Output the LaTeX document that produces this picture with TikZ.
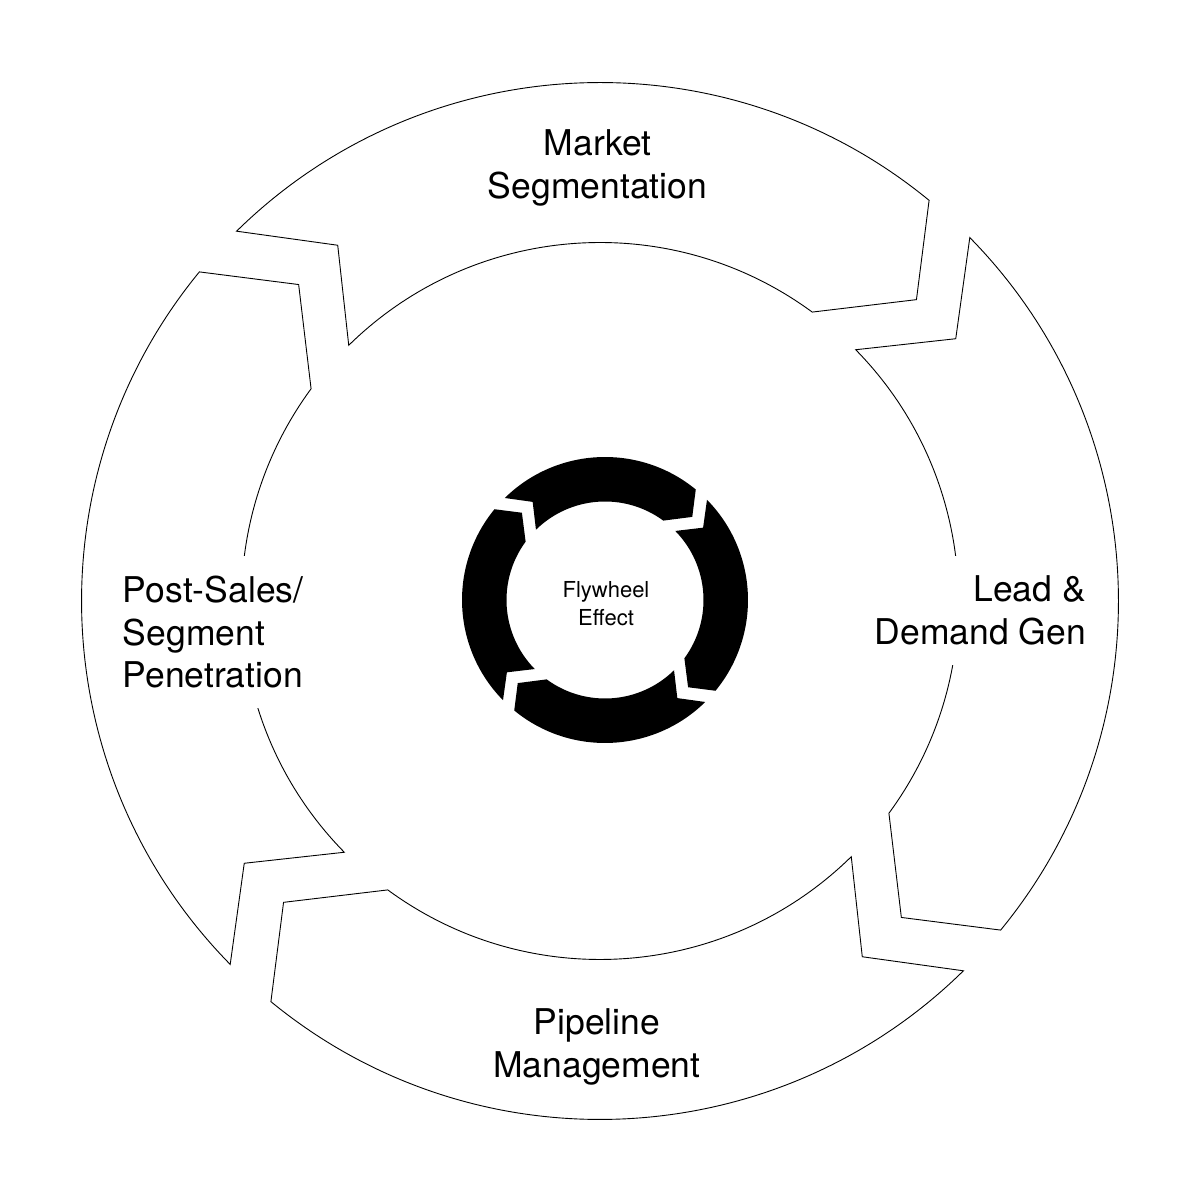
\documentclass[tikz,border=0pt]{standalone}
\usepackage{fontspec}
\setmainfont{TeX Gyre Heros}
\tikzset{
  ringseg/.style={draw=black, line width=0.9pt, fill=white, line join=miter},
  hubseg/.style={fill=black, draw=none},
  biglabel/.style={font=\fontsize{35.5}{42.6}\selectfont, inner sep=0pt},
  sidelabel/.style={biglabel, fill=white, inner xsep=5pt, inner ysep=20pt},
  hublabel/.style={font=\fontsize{22}{28.3}\selectfont, align=center, inner sep=0pt}
}
\begin{document}
\begin{tikzpicture}[x=1pt,y=1pt]
\fill[white] (0,0) rectangle (1195,1195);
\useasboundingbox (0,0) rectangle (1195,1195);
\coordinate (C) at (600,594);
\coordinate (H) at (605,595);
\foreach \r in {0,-90,-180,-270}{
  \draw[ringseg, shift={(C)}, rotate=\r]
    (134.5:518.5pt) arc[start angle=134.5, end angle=50.6, radius=518.5pt]
    -- (43.6:437pt) -- (53.7:358.5pt)
    arc[start angle=53.7, end angle=134.5, radius=358.5pt]
    -- (126.4:442pt) -- cycle;
  \fill[hubseg, shift={(H)}, rotate=\r]
    (134.5:143pt) arc[start angle=134.5, end angle=50.6, radius=143pt]
    -- (43.6:120.5pt) -- (53.7:98.5pt)
    arc[start angle=53.7, end angle=134.5, radius=98.5pt]
    -- (126.4:121.9pt) -- cycle;
}
\node[biglabel, align=center, anchor=base] (market) at (597.5,996.7) {Market\\Segmentation};
\node[biglabel, align=center, anchor=base] (pipeline) at (597,117.7) {Pipeline\\Management};
\node[sidelabel, align=right, anchor=base east] (lead) at (1091,550.7) {Lead \&\\Demand Gen};
\node[sidelabel, align=left, anchor=base west] (post) at (117.7,507.3) {Post-Sales/\\Segment\\Penetration};
\node[hublabel, anchor=base] (fly) at (606,569) {Flywheel\\Effect};
\end{tikzpicture}
\end{document}
